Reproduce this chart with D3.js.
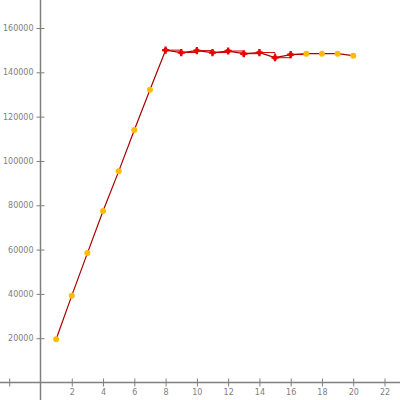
<!DOCTYPE html>
<html><head><meta charset="utf-8">
<script src="https://cdn.jsdelivr.net/npm/d3@7"></script>
<style>body{margin:0;background:#fff}svg{display:block}</style>
</head><body>
<script>
const xs = [1,2,3,4,5,6,7,8,9,10,11,12,13,14,15,16,17,18,19,20];
const values = [19500,39200,58400,77400,95300,114000,132100,150000,148900,149800,148900,149600,148400,148900,146600,148000,148400,148400,148400,147500];
const markerKind = ["y","y","y","y","y","y","y","r","r","r","r","r","r","r","r","r","y","y","y","y"];
const xTicks = [-2,2,4,6,8,10,12,14,16,18,20,22];
const xTickLabels = ["","2","4","6","8","10","12","14","16","18","20","22"];
const yTicks = [20000,40000,60000,80000,100000,120000,140000,160000];

const W=400,H=400;
const svg=d3.select("body").append("svg").attr("width",W).attr("height",H);
const x=d3.scaleLinear().domain([0,22]).range([40.5,384.5]);
const y=d3.scaleLinear().domain([0,160000]).range([382.5,28]);
const data=xs.map((d,i)=>({x:d,v:values[i],k:markerKind[i]}));
const grey="#808080";

svg.append("line").attr("x1",0).attr("x2",W).attr("y1",y(0)).attr("y2",y(0)).attr("stroke",grey).attr("stroke-width",1.5);
svg.append("line").attr("x1",x(0)).attr("x2",x(0)).attr("y1",0).attr("y2",H).attr("stroke",grey).attr("stroke-width",1.5);

const xAxis=svg.append("g").attr("transform",`translate(0,${y(0)-4})`)
  .call(d3.axisBottom(x).tickValues(xTicks).tickSize(8).tickFormat((d,i)=>xTickLabels[i]));
xAxis.select(".domain").remove();
xAxis.selectAll("line").attr("stroke",grey);
xAxis.selectAll("text").attr("fill",grey).attr("font-family","DejaVu Sans").attr("font-size",8).attr("dy","0.9em").attr("y",9);

const yAxis=svg.append("g").attr("transform",`translate(${x(0)+4},0)`)
  .call(d3.axisLeft(y).tickValues(yTicks).tickSize(8).tickFormat(d3.format("d")));
yAxis.select(".domain").remove();
yAxis.selectAll("line").attr("stroke",grey);
yAxis.selectAll("text").attr("fill",grey).attr("font-family","DejaVu Sans").attr("font-size",8).attr("x",-11);

const reds=data.filter(d=>d.k==="r");
svg.append("path").datum(reds.concat([{x:17,v:reds[reds.length-1].v}]))
  .attr("fill","none").attr("stroke","#cc0000").attr("stroke-width",1)
  .attr("d",d3.line().x(d=>x(d.x)).y(d=>y(d.v)).curve(d3.curveStepAfter));

svg.append("path").datum(data).attr("fill","none").attr("stroke","#aa0000").attr("stroke-width",1.2)
  .attr("d",d3.line().x(d=>x(d.x)).y(d=>y(d.v)));

svg.selectAll(".ym").data(data.filter(d=>d.k==="y")).enter().append("circle")
  .attr("cx",d=>x(d.x)).attr("cy",d=>y(d.v)).attr("r",3).attr("fill","#ffbb00");
svg.selectAll(".rm").data(reds).enter().append("path")
  .attr("transform",d=>`translate(${x(d.x)},${y(d.v)})`)
  .attr("d",d3.symbol().type(d3.symbolCross).size(28)).attr("fill","#ee0000");
svg.selectAll(".rm2").data(reds).enter().append("circle")
  .attr("cx",d=>x(d.x)).attr("cy",d=>y(d.v)).attr("r",2.4).attr("fill","#ee0000");
</script>
</body></html>
